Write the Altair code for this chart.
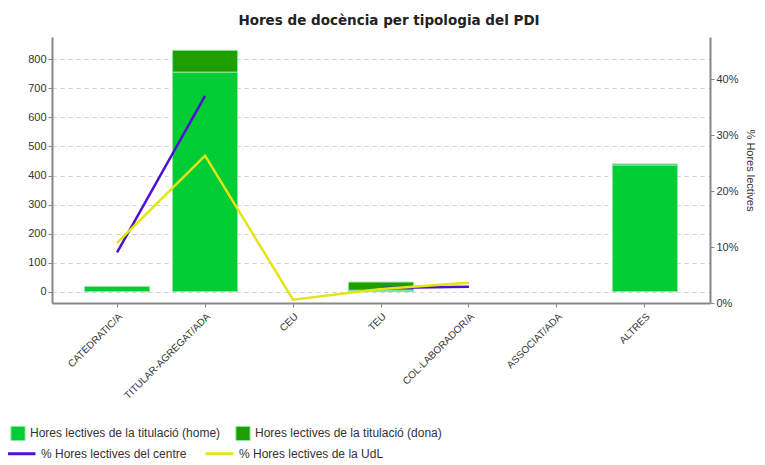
import altair as alt
import pandas as pd

categories = ["CATEDRATIC/A", "TITULAR-AGREGAT/ADA", "CEU", "TEU",
              "COL·LABORADOR/A", "ASSOCIAT/ADA", "ALTRES"]
hores_home = [18, 756, 0, 5, 0, 0, 436]
hores_dona = [0, 75, 0, 28, 0, 0, 4]
pct_centre = [9.05, 37.0, None, 2.7, 2.9, None, None]
pct_udl = [10.75, 26.3, 0.6, 2.5, 3.6, None, None]

bar_series = ["Hores lectives de la titulació (home)", "Hores lectives de la titulació (dona)"]
line_series = ["% Hores lectives del centre", "% Hores lectives de la UdL"]

bar_rows = []
for i, c in enumerate(categories):
    bar_rows.append({"cat": c, "serie": bar_series[0], "ord": 0, "v": hores_home[i]})
    bar_rows.append({"cat": c, "serie": bar_series[1], "ord": 1, "v": hores_dona[i]})
bars_df = pd.DataFrame(bar_rows)

line_rows = []
for i, c in enumerate(categories):
    line_rows.append({"cat": c, "serie": line_series[0],
                      "p": None if pct_centre[i] is None else pct_centre[i] / 100})
    line_rows.append({"cat": c, "serie": line_series[1],
                      "p": None if pct_udl[i] is None else pct_udl[i] / 100})
lines_df = pd.DataFrame(line_rows)

FONT = "Liberation Sans"

x_enc = alt.X("cat:N", sort=categories, title=None,
              scale=alt.Scale(paddingInner=0.26, paddingOuter=0.37),
              axis=alt.Axis(labelAngle=-45, labelFont=FONT, labelFontSize=10,
                            labelColor="#333", domainColor="#888", domainWidth=2,
                            tickColor="#888", tickSize=4, labelPadding=4))

bars = alt.Chart(bars_df).mark_bar(stroke="#8fe8a8", strokeWidth=1).encode(
    x=x_enc,
    y=alt.Y("v:Q", stack="zero", title=None,
            scale=alt.Scale(domain=[-39, 877], nice=False, zero=False),
            axis=alt.Axis(values=[0, 100, 200, 300, 400, 500, 600, 700, 800],
                          grid=True, gridDash=[4, 4], gridColor="#d0d0d0",
                          labelFont=FONT, labelFontSize=11, labelColor="#333",
                          domainColor="#888", domainWidth=2, tickColor="#888",
                          tickSize=4)),
    color=alt.Color("serie:N", sort=bar_series,
                    scale=alt.Scale(domain=bar_series, range=["#00cc33", "#1f9e00"]),
                    legend=alt.Legend(title=None, orient="none", legendX=-42, legendY=388,
                                      direction="horizontal", symbolType="square",
                                      symbolSize=200, symbolStrokeColor="#8fe8a8",
                                      symbolStrokeWidth=1, labelFont=FONT,
                                      labelFontSize=12, labelColor="#333",
                                      columnPadding=12, labelLimit=300)),
    order=alt.Order("ord:Q"),
).transform_filter("datum.v > 0")

lines = alt.Chart(lines_df).mark_line(strokeWidth=2.5, invalid="break-paths-show-domains").encode(
    x=alt.X("cat:N", sort=categories),
    y=alt.Y("p:Q", title="% Hores lectives",
            scale=alt.Scale(domain=[0, 0.475], nice=False),
            axis=alt.Axis(orient="right", format=".0%", values=[0, 0.1, 0.2, 0.3, 0.4],
                          grid=False, labelFont=FONT, labelFontSize=11, labelColor="#333",
                          domainColor="#888", domainWidth=2, tickColor="#888",
                          tickSize=4, titleFont=FONT, titleFontSize=11,
                          titleFontWeight="normal", titleColor="#333", titlePadding=6)),
    color=alt.Color("serie:N", sort=line_series,
                    scale=alt.Scale(domain=line_series, range=["#4f12d4", "#e4e416"]),
                    legend=alt.Legend(title=None, orient="none", legendX=-46, legendY=401,
                                      direction="horizontal", symbolType="stroke",
                                      symbolSize=784, symbolStrokeWidth=3,
                                      labelFont=FONT, labelFontSize=12,
                                      labelColor="#333", columnPadding=12,
                                      labelLimit=300)),
)

chart = alt.layer(bars, lines).resolve_scale(y="independent", color="independent").properties(
    width=658, height=266,
    title=alt.TitleParams("Hores de docència per tipologia del PDI", font="DejaVu Sans",
                          fontSize=13.5, fontWeight="bold", color="#222", offset=10, dx=8),
    autosize=alt.AutoSizeParams(type="none"),
    padding={"left": 44, "top": 29, "right": 47, "bottom": 160},
).configure_view(stroke=None)

chart.save("out.html", embed_options={"renderer": "svg", "actions": False})
